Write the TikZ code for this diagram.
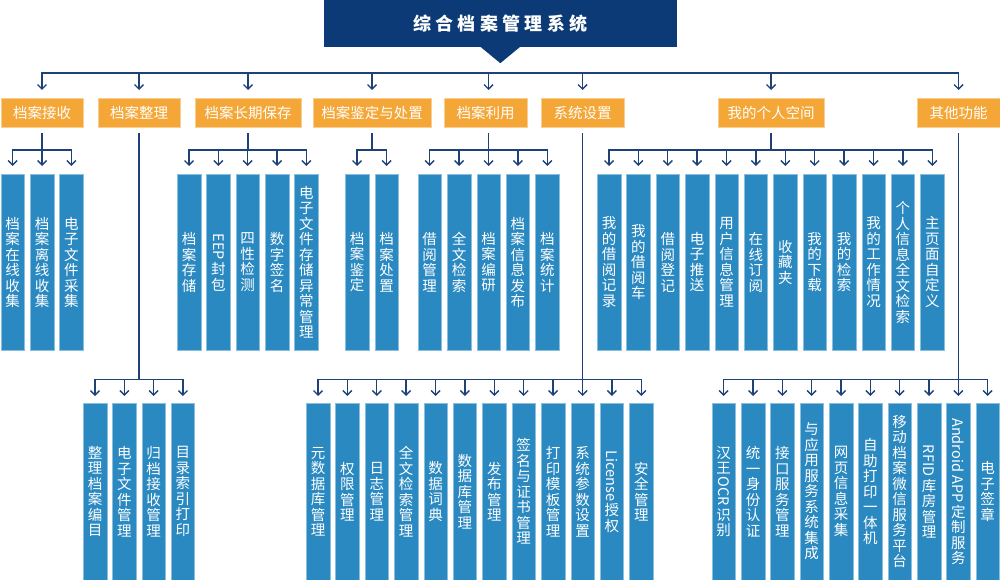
\documentclass[tikz,border=0pt]{standalone}
\usepackage{fontspec}
\setmainfont{Noto Sans CJK SC}
\usepackage{graphicx}
\usetikzlibrary{arrows.meta}
\definecolor{titleblue}{HTML}{0C3A76}
\definecolor{linecol}{HTML}{1E4278}
\definecolor{catorange}{HTML}{F4A636}
\definecolor{leafblue}{HTML}{2A89C1}
\ExplSyntaxOn
\NewDocumentCommand \vtext { m }
  {
    \vbox
      {
        \baselineskip=15.5pt \lineskiplimit=0pt \lineskip=2.5pt
        \tl_map_inline:nn {#1}
          {
            \tl_if_single:nTF {##1}
              { \hbox_to_wd:nn {16pt} { \hss ##1 \hss } }
              { \hbox_to_wd:nn {16pt} { \hss \rotatebox[origin=c]{-90}{##1} \hss } }
          }
      }
  }
\ExplSyntaxOff
\newcommand\vt[1]{\expandafter\vtext\expandafter{#1}}
\begin{document}
\begin{tikzpicture}[x=1pt,y=-1pt,
  titlebox/.style={fill=titleblue,text=white,inner sep=0pt,minimum width=352.7pt,minimum height=47pt,font=\fontsize{18}{20}\selectfont\bfseries},
  cat/.style={fill=catorange,draw=catorange!55!white,line width=0.5pt,text=white,minimum height=29pt,inner sep=0pt,anchor=north,font=\fontsize{14.5}{16}\selectfont},
  leaf/.style={fill=leafblue,draw=leafblue!55!white,line width=0.5pt,text=white,minimum width=23.5pt,inner sep=0pt,anchor=north,font=\fontsize{14.5}{16}\selectfont},
  leafA/.style={leaf,minimum height=176pt},
  leafB/.style={leaf,minimum height=177.3pt},
  ln/.style={draw=linecol,line width=1.4pt},
  hln/.style={ln,line cap=rect},
  arr/.style={ln,-{Straight Barb[length=4.5pt,width=9pt]}},
]
\useasboundingbox (0,0) rectangle (1000,580);
\fill[white] (0,0) rectangle (1000,580);

% title
\node[titlebox] (title) at (500.3,23.5) {综\kern4.3pt 合\kern4.3pt 档\kern4.3pt 案\kern4.3pt 管\kern4.3pt 理\kern4.3pt 系\kern4.3pt 统};
\fill[titleblue] ([xshift=-20pt,yshift=0.5pt]title.south) -- ([xshift=20pt,yshift=0.5pt]title.south) -- ([yshift=-16pt]title.south) -- cycle;

% categories
\node[cat,minimum width=82pt]  (cat1) at (42,98)    {档案接收};
\node[cat,minimum width=82pt]  (cat2) at (139,98)   {档案整理};
\node[cat,minimum width=106pt] (cat3) at (248,98)   {档案长期保存};
\node[cat,minimum width=118pt] (cat4) at (372,98)   {档案鉴定与处置};
\node[cat,minimum width=83pt]  (cat5) at (485.5,98) {档案利用};
\node[cat,minimum width=83pt]  (cat6) at (582.5,98) {系统设置};
\node[cat,minimum width=106pt] (cat7) at (771,98)   {我的个人空间};
\node[cat,minimum width=83pt]  (cat8) at (958.5,98) {其他功能};

% leaves row 1
\foreach \lab [count=\i] in {档案在线收集,档案离线收集,电子文件采集}
  \node[leafA] (a\i) at ({12.7+(\i-1)*29.35},174) {\vt{\lab}};
\foreach \lab [count=\i] in {档案存储,{EEP}封包,四性检测,数字签名,电子文件存储异常管理}
  \node[leafA] (c\i) at ({189+(\i-1)*29.35},174) {\vt{\lab}};
\foreach \lab [count=\i] in {档案鉴定,档案处置}
  \node[leafA] (d\i) at ({357+(\i-1)*29.7},174) {\vt{\lab}};
\foreach \lab [count=\i] in {借阅管理,全文检索,档案编研,档案信息发布,档案统计}
  \node[leafA] (e\i) at ({429.7+(\i-1)*29.4},174) {\vt{\lab}};
\foreach \lab [count=\i] in {我的借阅记录,我的借阅车,借阅登记,电子推送,用户信息管理,在线订阅,收藏夹,我的下载,我的检索,我的工作情况,个人信息全文检索,主页面自定义}
  \node[leafA] (g\i) at ({609+(\i-1)*29.39},174) {\vt{\lab}};

% leaves row 2
\foreach \lab [count=\i] in {整理档案编目,电子文件管理,归档接收管理,目录索引打印}
  \node[leafB] (b\i) at ({95+(\i-1)*29.33},402.7) {\vt{\lab}};
\foreach \lab [count=\i] in {元数据库管理,权限管理,日志管理,全文检索管理,数据词典,数据库管理,发布管理,签名与证书管理,打印模板管理,系统参数设置,{License}授权,安全管理}
  \node[leafB] (f\i) at ({318+(\i-1)*29.39},402.7) {\vt{\lab}};
\foreach \lab [count=\i] in {汉王{OCR}识别,统一身份认证,接口服务管理,与应用服务系统集成,网页信息采集,自助打印一体机,移动档案微信服务平台,{RFID}库房管理,{Android APP}定制服务,电子签章}
  \node[leafB] (h\i) at ({723.7+(\i-1)*29.33},402.7) {\vt{\lab}};

% bus levels
\coordinate (bus) at (0,73);
\coordinate (br1) at (0,150);
\coordinate (br2) at (0,379.3);

% top bus
\draw[hln] (cat1.north |- bus) -- (cat8.north |- bus);
\foreach \n in {cat1,cat2,cat3,cat4,cat6,cat7,cat8}
  \draw[arr,shorten >=8pt] (\n.north |- bus) -- (\n.north);
\draw[arr,shorten >=8pt] (e3.north |- bus) -- (e3.north |- cat5.north);

% group 1
\draw[ln,shorten <=6pt] (cat1.south) -- (cat1.south |- br1);
\draw[hln] (a1.north |- br1) -- (a3.north |- br1);
\foreach \i in {1,...,3} \draw[arr,shorten >=8pt] (a\i.north |- br1) -- (a\i.north);
% group 3
\draw[ln,shorten <=6pt] (cat3.south) -- (cat3.south |- br1);
\draw[hln] (c1.north |- br1) -- (c5.north |- br1);
\foreach \i in {1,...,5} \draw[arr,shorten >=8pt] (c\i.north |- br1) -- (c\i.north);
% group 4
\draw[ln,shorten <=6pt] (cat4.south) -- (cat4.south |- br1);
\draw[hln] (d1.north |- br1) -- (d2.north |- br1);
\foreach \i in {1,2} \draw[arr,shorten >=8pt] (d\i.north |- br1) -- (d\i.north);
% group 5
\draw[ln,shorten <=6pt] (e3.north |- cat5.south) -- (e3.north |- br1);
\draw[hln] (e1.north |- br1) -- (e5.north |- br1);
\foreach \i in {1,...,5} \draw[arr,shorten >=8pt] (e\i.north |- br1) -- (e\i.north);
% group 7
\draw[ln,shorten <=6pt] (cat7.south) -- (cat7.south |- br1);
\draw[hln] (g1.north |- br1) -- (g12.north |- br1);
\foreach \i in {1,...,12} \draw[arr,shorten >=8pt] (g\i.north |- br1) -- (g\i.north);

% group 2
\draw[ln,shorten <=6pt] (cat2.south) -- (cat2.south |- br2);
\draw[hln] (b1.north |- br2) -- (b4.north |- br2);
\foreach \i in {1,...,4} \draw[arr,shorten >=6.7pt] (b\i.north |- br2) -- (b\i.north);
% group 6
\draw[ln,shorten <=6pt] (cat6.south) -- (cat6.south |- br2);
\draw[hln] (f1.north |- br2) -- (f12.north |- br2);
\foreach \i in {1,...,12} \draw[arr,shorten >=6.7pt] (f\i.north |- br2) -- (f\i.north);
% group 8
\draw[ln,shorten <=6pt] (cat8.south) -- (cat8.south |- br2);
\draw[hln] (h1.north |- br2) -- (h10.north |- br2);
\foreach \i in {1,...,10} \draw[arr,shorten >=6.7pt] (h\i.north |- br2) -- (h\i.north);
\end{tikzpicture}
\end{document}
